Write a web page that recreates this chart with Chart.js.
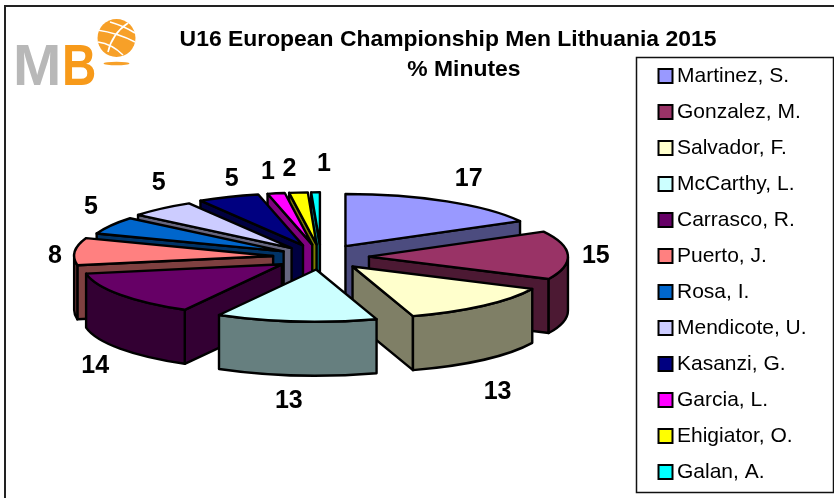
<!DOCTYPE html>
<html><head><meta charset="utf-8">
<style>html,body{margin:0;padding:0;background:#fff}#w{width:834px;height:498px;position:relative}</style>
<script src="https://cdn.jsdelivr.net/npm/chart.js@4"></script>
</head><body><div id="w"><canvas id="c" width="834" height="498"></canvas></div>
<script>
const titleLines = ['U16 European Championship Men Lithuania 2015', '     % Minutes'];
const players = ['Martinez, S.','Gonzalez, M.','Salvador, F.','McCarthy, L.','Carrasco, R.','Puerto, J.','Rosa, I.','Mendicote, U.','Kasanzi, G.','Garcia, L.','Ehigiator, O.','Galan, A.'];
const minutes = [17,15,13,13,14,8.4,5.4,5.4,5,1.4,1.5,0.7];
const colours = ['#9999FF','#993366','#FFFFCC','#CCFFFF','#660066','#FF8080','#0066CC','#CCCCFF','#000080','#FF00FF','#FFFF00','#00FFFF'];
const explode = [48,48,48,48,48,48,43,45,48,48,48,48];
const labelNudge = [[10,0],[5,2],[-1,13],[-5,0],[-6,2],[3,7],[0,-6],[12,-6],[12,6],[-4,4],[-7,2],[9,-2]];

const TILT = 0.262, DEPTH = 54, FONT = '"Liberation Sans", Arial, sans-serif';
const half = h => '#' + [1,3,5].map(i => (parseInt(h.substr(i,2),16)>>1).toString(16).padStart(2,'0')).join('');
const TAU = Math.PI*2;

function slicePath(ctx,px,py,R,a,b,dy){
  ctx.beginPath(); ctx.moveTo(px,py+dy);
  ctx.ellipse(px,py+dy,R,R*TILT,0,a,b); ctx.closePath();
}
function wall(ctx,pts,fill){
  ctx.beginPath(); pts.forEach((p,i)=>i?ctx.lineTo(p[0],p[1]):ctx.moveTo(p[0],p[1])); ctx.closePath();
  ctx.fillStyle=fill; ctx.fill(); ctx.stroke();
}
const pie3d = {
  id:'pie3d',
  beforeLayout(chart){
    const lg = chart.legend;
    if(lg && !lg._patched){
      lg._patched = true;
      const up = lg.update;
      lg.update = function(w,h,m){ up.call(this,w,900,m); };
    }
  },
  afterLayout(chart){
    const lg = chart.legend;
    lg.left = 649.5; lg.right = 834; lg.top = 50.5; lg.bottom = 900;
    chart.titleBlock.left = 62; chart.titleBlock.right = 834;
  },
  beforeDraw(chart){
    const c = chart.ctx;
    c.save(); c.fillStyle='#fff'; c.fillRect(0,0,834,498);
    c.strokeStyle='#222'; c.lineWidth=2; c.strokeRect(5,6,840,500);
    c.strokeStyle='#111'; c.lineWidth=1.5; c.strokeRect(636.5,57.5,197,435);
    drawLogo(c);
    c.restore();
  },
  beforeDatasetsDraw(chart){
    const c = chart.ctx, arcs = chart.getDatasetMeta(0).data;
    c.save(); c.lineWidth=2.4; c.strokeStyle='#000'; c.lineJoin='round';
    const items = arcs.map((el,i)=>{
      const p = el.getProps(['x','y','startAngle','endAngle','outerRadius']);
      const m = (p.startAngle+p.endAngle)/2, off = el.options.offset;
      return {i,p,m,px:p.x+Math.cos(m)*off,py:p.y+Math.sin(m)*off*TILT};
    }).sort((u,v)=>u.py-v.py);
    for(const s of items){
      const {p,px,py,i}=s, R=p.outerRadius, a=p.startAngle, b=p.endAngle, dark=half(colours[i]);
      const ex=t=>[px+R*Math.cos(t),py+R*TILT*Math.sin(t)];
      if(Math.cos(a)<0){ const e=ex(a); wall(c,[[px,py],e,[e[0],e[1]+DEPTH],[px,py+DEPTH]],dark); }
      if(Math.cos(b)>0){ const e=ex(b); wall(c,[[px,py],e,[e[0],e[1]+DEPTH],[px,py+DEPTH]],dark); }
      for(const k of [0,1]){
        const lo=Math.max(a,k*TAU), hi=Math.min(b,k*TAU+Math.PI);
        if(hi>lo){
          c.beginPath(); c.ellipse(px,py,R,R*TILT,0,lo,hi);
          c.ellipse(px,py+DEPTH,R,R*TILT,0,hi,lo,true); c.closePath();
          c.fillStyle=dark; c.fill(); c.stroke();
        }
      }
      slicePath(c,px,py,R,a,b,0); c.fillStyle=colours[i]; c.fill(); c.stroke();
    }
    c.restore();
    return false;
  },
  afterDraw(chart){
    const c = chart.ctx, arcs = chart.getDatasetMeta(0).data;
    c.save(); c.fillStyle='#000'; c.font='bold 25px '+FONT; c.textAlign='center'; c.textBaseline='middle';
    arcs.forEach((el,i)=>{
      const p = el.getProps(['x','y','startAngle','endAngle','outerRadius']);
      const m=(p.startAngle+p.endAngle)/2, off=el.options.offset;
      const px=p.x+Math.cos(m)*off, py=p.y+Math.sin(m)*off*TILT;
      const x=px+Math.cos(m)*(p.outerRadius+23)+labelNudge[i][0];
      const y=py+Math.sin(m)*78+(Math.sin(m)>0?DEPTH:0)+labelNudge[i][1];
      c.fillText(String(Math.round(minutes[i])),x,y);
    });
    c.restore();
  }
};
function drawLogo(c){
  c.save(); c.filter='blur(0.5px)';
  c.font='bold 58px '+FONT; c.textBaseline='alphabetic'; c.textAlign='left';
  c.fillStyle='#B8B8B8'; c.fillText('M',13,85);
  c.save(); c.translate(62,85); c.scale(0.82,1); c.fillStyle='#F79A1A'; c.fillText('B',0,0); c.restore();
  c.fillStyle='#F7A028';
  c.beginPath(); c.arc(116.5,38,19,0,TAU); c.fill();
  c.beginPath(); c.ellipse(116.5,63.5,13,1.8,0,0,TAU); c.fill();
  c.strokeStyle='#fff'; c.lineWidth=1.6;
  [[97,30,118,33,135,42],[98,42,112,44,123,55],[110,22,124,26,135,33],[128,23,112,34,108,52]].forEach(l=>{
    c.beginPath(); c.moveTo(l[0],l[1]); c.quadraticCurveTo(l[2],l[3],l[4],l[5]); c.stroke();
  });
  c.restore();
}
new Chart(document.getElementById('c'),{
  type:'pie',
  data:{labels:players,datasets:[{data:minutes,backgroundColor:colours,borderColor:'#000',borderWidth:2,offset:explode,radius:199}]},
  options:{
    responsive:false,animation:false,events:[],
    radius:199,
    layout:{padding:{top:25,bottom:69,left:11,right:36}},
    plugins:{
      tooltip:{enabled:false},
      title:{display:true,text:titleLines,color:'#000',padding:0,font:{family:FONT,size:22.9,weight:'bold',lineHeight:1.31}},
      legend:{position:'right',align:'start',labels:{color:'#000',font:{family:FONT,size:21},usePointStyle:true,pointStyle:'rect',boxWidth:2,boxHeight:14,padding:15}}
    }
  },
  plugins:[pie3d]
});
</script></body></html>
